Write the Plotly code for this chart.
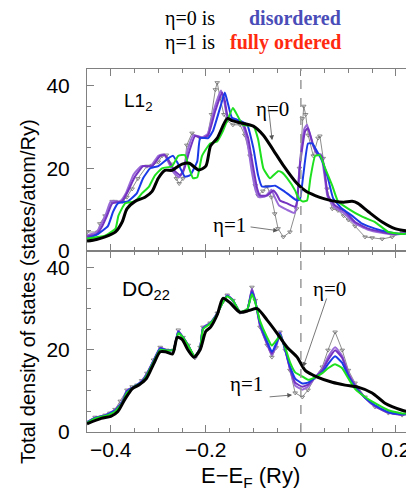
import plotly.graph_objects as go
from plotly.subplots import make_subplots

# ---------------- data: top panel (L1_2) ----------------
top_gray_x = [-0.45, -0.427, -0.423, -0.412, -0.397, -0.391, -0.376, -0.366, -0.355, -0.343, -0.324, -0.313, -0.3, -0.292, -0.283,
              -0.272, -0.262, -0.256, -0.248, -0.24, -0.229, -0.212, -0.197, -0.188, -0.18, -0.176, -0.17, -0.162, -0.155, -0.143,
              -0.128, -0.118, -0.107, -0.096, -0.09, -0.08, -0.071, -0.062, -0.055, -0.048, -0.037, -0.023, -0.009, -0.003, 0.003,
              0.006, 0.01, 0.0155, 0.026, 0.036, 0.04, 0.047, 0.055, 0.066, 0.078, 0.09, 0.1, 0.114, 0.135, 0.15, 0.171, 0.192,
              0.213, 0.238]
top_gray_y = [4.6, 4.6, 6.6, 8.5, 12, 12, 12, 13, 15, 17.5, 20.5, 20.7, 21.5, 23, 23.2,
              21, 17.5, 16.3, 17.5, 25.6, 28.5, 27.3, 27.6, 33, 39, 40.7, 37, 33, 31.5, 30.5,
              30.5, 28, 23, 15.8, 13.4, 14.5, 15.6, 13, 9, 5.4, 3.4, 4.6, 10.2, 20, 32,
              35, 33, 28, 23, 27.3, 27.8, 22.4, 15, 10.2, 9.8, 8.5, 7.5, 6, 3.4, 3.2, 2.9, 3.4,
              4.6, 4.6]

top_black_x = [-0.45, -0.43, -0.412, -0.39, -0.376, -0.366, -0.349, -0.328, -0.313, -0.3, -0.286, -0.271, -0.258, -0.25, -0.235,
               -0.215, -0.2, -0.19, -0.176, -0.155, -0.145, -0.128, -0.1, -0.079, -0.058, -0.037, -0.008, 0.01, 0.03, 0.05,
               0.072, 0.09, 0.108, 0.12, 0.142, 0.171, 0.198, 0.238]
top_black_y = [2.4, 2.8, 3.4, 4.6, 7, 10.2, 12, 13, 14.4, 17.6, 19.5, 19.5, 20.5, 21, 21.2,
               19.6, 20.5, 25.4, 27.3, 32, 31.5, 31, 30.2, 28, 24.4, 20.7, 16.3, 14.5, 13.4, 12.6,
               12, 11.8, 12, 11.5, 9.5, 7, 5.4, 4.6]

top_green_x = [-0.45, -0.412, -0.39, -0.384, -0.37, -0.349, -0.334, -0.32, -0.307, -0.292, -0.271, -0.258, -0.244, -0.235,
               -0.227, -0.218, -0.208, -0.191, -0.176, -0.164, -0.143, -0.137, -0.122, -0.1, -0.09, -0.079, -0.065, -0.048,
               -0.04, -0.029, -0.012, -0.005, 0.003, 0.013, 0.02, 0.03, 0.04, 0.051, 0.066, 0.078, 0.1, 0.129, 0.156, 0.184,
               0.213, 0.238]
top_green_y = [3, 3.7, 5.4, 8.5, 11.5, 12, 14, 15.5, 18.3, 20, 20.5, 23, 23.2, 20,
               17.6, 17.8, 23, 26, 26.5, 29, 34.6, 33.5, 30.5, 30.2, 27, 20, 17.6, 19.3,
               19, 17.6, 14.6, 12.7, 12, 12.2, 17.6, 23, 23.2, 20, 15.8, 12, 10.2, 8.3, 7, 4.6,
               4.1, 4.6]

top_blue_x = [-0.45, -0.427, -0.406, -0.395, -0.385, -0.364, -0.345, -0.332, -0.317, -0.3, -0.279, -0.269, -0.258, -0.244,
              -0.233, -0.218, -0.212, -0.195, -0.185, -0.17, -0.16, -0.153, -0.145, -0.128, -0.113, -0.1, -0.09, -0.082,
              -0.069, -0.054, -0.037, -0.023, -0.008, -0.002, 0.005, 0.015, 0.024, 0.03, 0.045, 0.057, 0.068, 0.087, 0.108,
              0.129, 0.156, 0.184, 0.213, 0.238]
top_blue_y = [3, 4.1, 6, 9.5, 11.5, 12, 14, 17.6, 20, 20.5, 22.4, 23, 21, 18,
              18.3, 21.7, 27.3, 27.3, 29, 34.6, 38.3, 35.4, 32.2, 31.5, 30.5, 24.9, 18.3, 15.6,
              15.6, 15.8, 14.6, 13.4, 12.2, 12.5, 18.3, 26, 26, 24.9, 21.7, 17.6, 12.7, 10.2, 8.5,
              6.6, 5.4, 4.6, 4.1, 4.6]

top_purple_x = [-0.45, -0.43, -0.418, -0.408, -0.397, -0.376, -0.364, -0.349, -0.332, -0.313, -0.296, -0.286, -0.265, -0.254,
                -0.245, -0.235, -0.223, -0.206, -0.195, -0.18, -0.166, -0.16, -0.153, -0.134, -0.122, -0.111, -0.1, -0.092,
                -0.086, -0.071, -0.058, -0.05, -0.044, -0.029, -0.012, -0.008, -0.002, 0.009, 0.015, 0.026, 0.036, 0.044,
                0.051, 0.057, 0.072, 0.093, 0.114, 0.142, 0.171, 0.198, 0.238]
top_purple_y = [3.5, 4, 6, 8.5, 11.5, 12, 14.4, 18, 20.5, 20.5, 23, 23.2, 19.3, 18.3,
                20, 24, 27.8, 27.3, 28, 33.9, 38.3, 36.3, 32.2, 31.7, 31, 27.3, 20, 15.1,
                13.4, 13.4, 14.6, 13.5, 12.2, 11.5, 10.7, 12, 20.7, 29, 29.7, 25.6, 23.2, 23,
                18.3, 13.4, 11, 9.5, 7, 5.4, 4.6, 4.1, 4.6]

top_violet_x = [-0.45, -0.43, -0.42, -0.41, -0.4, -0.38, -0.368, -0.352, -0.336, -0.316, -0.3, -0.288, -0.268, -0.256,
                -0.247, -0.238, -0.226, -0.208, -0.196, -0.182, -0.168, -0.161, -0.154, -0.136, -0.124, -0.113, -0.103,
                -0.095, -0.088, -0.075, -0.062, -0.055, -0.046, -0.03, -0.014, -0.009, -0.003, 0.007, 0.013, 0.024, 0.034,
                0.042, 0.05, 0.056, 0.07, 0.09, 0.112, 0.14, 0.17, 0.198, 0.238]
top_violet_y = [3.8, 4.5, 6.5, 9, 12, 12, 14, 18.5, 20.5, 20.5, 23, 23.4, 19, 17.8,
                19.5, 24.5, 28, 27.5, 28.3, 34.5, 38.8, 36, 32, 31.5, 30.8, 26.5, 19, 14.5,
                13, 13.2, 14.8, 13, 11, 10, 9.2, 11, 20, 29.5, 30.5, 26, 23.5, 23.4,
                18, 13.2, 10.6, 9.2, 6.8, 5.2, 4.4, 4, 4.6]

# ---------------- data: bottom panel (DO_22) ----------------
bot_gray_x = [-0.45, -0.433, -0.412, -0.402, -0.391, -0.38, -0.366, -0.355, -0.345, -0.335, -0.324, -0.31, -0.296, -0.282,
              -0.268, -0.258, -0.248, -0.237, -0.223, -0.212, -0.206, -0.191, -0.176, -0.165, -0.155, -0.143, -0.128, -0.113,
              -0.103, -0.096, -0.086, -0.071, -0.061, -0.052, -0.044, -0.033, -0.023, -0.012, 0.003, 0.015, 0.03, 0.045,
              0.057, 0.072, 0.087, 0.1, 0.114, 0.135, 0.156, 0.184, 0.213, 0.238]
bot_gray_y = [2.4, 3.6, 4.1, 4.6, 5.5, 7.5, 10.2, 11, 11.4, 12.5, 14.3, 17.5, 20.6, 19.9,
              19.9, 24.8, 23, 21.1, 18, 20.6, 25.5, 26.5, 28.9, 31.5, 33.3, 32, 29.1, 29.6,
              35.2, 32, 25.5, 21.1, 18.2, 20.5, 24.3, 19.9, 15, 9.5, 8.5, 10.2, 13.3, 15.8,
              19.9, 24.3, 19.9, 15, 11.9, 8.5, 6.1, 4.6, 4.1, 4.6]

bot_black_x = [-0.45, -0.42, -0.4, -0.385, -0.37, -0.355, -0.34, -0.325, -0.31, -0.296, -0.285, -0.27, -0.26, -0.25, -0.238,
               -0.225, -0.212, -0.2, -0.19, -0.176, -0.164, -0.15, -0.128, -0.11, -0.092, -0.071, -0.05, -0.029, -0.008,
               0.009, 0.036, 0.066, 0.093, 0.12, 0.15, 0.177, 0.213, 0.238]
bot_black_y = [2, 3.3, 3.8, 5, 8, 10.5, 11.5, 13, 16.5, 19.5, 19.5, 19, 23, 22.5, 20,
               18.2, 20, 24.5, 25.5, 28.5, 32.5, 31.5, 29.1, 29.5, 30, 27.2, 24, 20.6, 18.2,
               15, 13.3, 12.1, 11.4, 10.9, 9.5, 7, 5.3, 4.6]

bot_green_x = [-0.45, -0.433, -0.412, -0.391, -0.376, -0.366, -0.35, -0.335, -0.324, -0.31, -0.296, -0.282, -0.268, -0.258,
               -0.248, -0.237, -0.223, -0.212, -0.206, -0.191, -0.176, -0.165, -0.155, -0.143, -0.128, -0.113, -0.103,
               -0.096, -0.086, -0.071, -0.061, -0.05, -0.044, -0.033, -0.023, -0.012, 0.003, 0.015, 0.03, 0.045, 0.057,
               0.072, 0.087, 0.1, 0.114, 0.135, 0.156, 0.184, 0.213, 0.238]
bot_green_y = [2.2, 3.3, 3.9, 5, 7, 9.5, 11, 12, 13.8, 17, 20, 19.8, 20, 24, 23, 21, 18.3, 20.3, 25, 26.3, 28.7, 31.3, 33,
               32, 29.2, 29.8, 33.5, 31.5, 27, 23, 21, 22.5, 23.5, 20.5, 17, 14.5, 13.5, 12.7, 13.3, 14.3, 15.5,
               16.5, 15.5, 13, 10.5, 8.5, 7, 5.3, 4.5, 4.6]

bot_blue_x = [-0.45, -0.433, -0.412, -0.391, -0.376, -0.366, -0.35, -0.335, -0.324, -0.31, -0.296, -0.282, -0.268, -0.258,
              -0.248, -0.237, -0.223, -0.212, -0.206, -0.191, -0.176, -0.165, -0.155, -0.143, -0.128, -0.113, -0.103,
              -0.096, -0.086, -0.071, -0.061, -0.05, -0.044, -0.033, -0.023, -0.012, 0.003, 0.015, 0.03, 0.045, 0.057,
              0.072, 0.087, 0.1, 0.114, 0.135, 0.156, 0.184, 0.213, 0.238]
bot_blue_y = [2.3, 3.4, 4, 5.2, 7.2, 9.8, 11.1, 12.2, 14, 17.2, 20.3, 19.8, 20, 24.3, 23, 21, 18.2, 20.4, 25.2, 26.4, 28.8,
              31.4, 33.1, 32, 29.1, 29.7, 34, 31.8, 26.5, 22, 19.5, 22, 24, 20, 16, 13, 11.8, 12, 13.3, 14.5, 16.5,
              18.4, 16.8, 13.5, 11, 8.3, 6.5, 4.8, 4.3, 4.6]

bot_purple_x = [-0.45, -0.433, -0.412, -0.391, -0.376, -0.366, -0.35, -0.335, -0.324, -0.31, -0.296, -0.282, -0.268, -0.258,
                -0.248, -0.237, -0.223, -0.212, -0.206, -0.191, -0.176, -0.165, -0.155, -0.143, -0.128, -0.113, -0.103,
                -0.096, -0.086, -0.071, -0.061, -0.05, -0.044, -0.033, -0.023, -0.012, 0.003, 0.015, 0.03, 0.045, 0.057,
                0.072, 0.087, 0.1, 0.114, 0.135, 0.156, 0.184, 0.213, 0.238]
bot_purple_y = [2.3, 3.5, 4, 5.3, 7.3, 10, 11, 12.3, 14.1, 17.3, 20.4, 19.9, 20, 24.5, 23, 21, 18.1, 20.5, 25.3, 26.4, 28.8,
                31.4, 33.2, 32, 29.1, 29.6, 34.5, 31.9, 26, 21.5, 19, 22, 24.2, 20, 15.5, 12, 11, 11.5, 13.3, 15, 17.5,
                19.9, 18, 14, 11.3, 8.3, 6.3, 4.7, 4.2, 4.6]

bot_violet_x = [-0.45, -0.433, -0.412, -0.391, -0.376, -0.366, -0.35, -0.335, -0.324, -0.31, -0.296, -0.282, -0.268, -0.258,
                -0.248, -0.237, -0.223, -0.212, -0.206, -0.191, -0.176, -0.165, -0.155, -0.143, -0.128, -0.113, -0.103,
                -0.096, -0.086, -0.071, -0.061, -0.05, -0.044, -0.033, -0.023, -0.012, 0.003, 0.015, 0.03, 0.045, 0.057,
                0.072, 0.087, 0.1, 0.114, 0.135, 0.156, 0.184, 0.213, 0.238]
bot_violet_y = [2.4, 3.5, 4.1, 5.4, 7.4, 10.1, 11, 12.4, 14.2, 17.4, 20.5, 19.9, 20, 24.6, 23, 21.1, 18.1, 20.5, 25.4, 26.5,
                28.9, 31.5, 33.3, 32, 29.1, 29.6, 34.8, 31.9, 25.8, 21.3, 18.7, 21.5, 24.3, 20, 15.3, 11.3, 10.3, 11,
                13.3, 15.3, 18.2, 20.6, 18.5, 14.3, 11.5, 8.3, 6.2, 4.7, 4.2, 4.6]

x_tick_vals = [-0.4, -0.2, 0, 0.2]
x_tick_text = ["\u22120.4", "\u22120.2", "0", "0.2"]
y_tick_vals = [0, 20, 40]

# ---------------- figure ----------------
# page body has an 8px margin; figure coordinates = screen coordinates - 8
OFF = 8
W, H = 414 - OFF, 494 - OFF
ML, MR, MT, MB = 87 - OFF, 0, 69 - OFF, 62
PW, PH = W - ML - MR, H - MT - MB


def px(xs):
    return (xs - OFF - ML) / PW


def py(ys):
    return (H - MB - (ys - OFF)) / PH


fig = make_subplots(rows=2, cols=1, shared_xaxes=True, vertical_spacing=0)

C_BLACK = "#000000"
C_GREEN = "#1ee01e"
C_BLUE = "#1a3ae8"
C_PURPLE = "#7433c0"
C_VIOLET = "#9a6ad8"
C_GRAY = "#6e6e6e"

panels = [
    (1, top_gray_x, top_gray_y, top_violet_x, top_violet_y, top_purple_x, top_purple_y,
     top_blue_x, top_blue_y, top_green_x, top_green_y, top_black_x, top_black_y),
    (2, bot_gray_x, bot_gray_y, bot_violet_x, bot_violet_y, bot_purple_x, bot_purple_y,
     bot_blue_x, bot_blue_y, bot_green_x, bot_green_y, bot_black_x, bot_black_y),
]
for (r, gx, gy, vx, vy, ux, uy, bx, by, grx, gry, kx, ky) in panels:
    fig.add_trace(go.Scatter(x=gx, y=gy, mode="lines+markers",
                             line=dict(color=C_GRAY, width=0.8),
                             marker=dict(symbol="triangle-down-open", size=4, color=C_GRAY, line=dict(width=0.8))),
                  row=r, col=1)
    fig.add_trace(go.Scatter(x=vx, y=vy, mode="lines", line=dict(color=C_VIOLET, width=2, shape="spline", smoothing=0.4)),
                  row=r, col=1)
    fig.add_trace(go.Scatter(x=ux, y=uy, mode="lines", line=dict(color=C_PURPLE, width=2, shape="spline", smoothing=0.4)),
                  row=r, col=1)
    fig.add_trace(go.Scatter(x=bx, y=by, mode="lines", line=dict(color=C_BLUE, width=2, shape="spline", smoothing=0.4)),
                  row=r, col=1)
    fig.add_trace(go.Scatter(x=grx, y=gry, mode="lines", line=dict(color=C_GREEN, width=2, shape="spline", smoothing=0.4)),
                  row=r, col=1)
    fig.add_trace(go.Scatter(x=kx, y=ky, mode="lines", line=dict(color=C_BLACK, width=3, shape="spline", smoothing=0.7)),
                  row=r, col=1)

tick_font = dict(family="Liberation Sans, Arial, sans-serif", size=21, color="black")
axis_common = dict(showline=True, linecolor="#808080", linewidth=1, mirror="ticks", ticks="inside",
                   ticklen=7, tickcolor="#808080", showgrid=False, zeroline=False, tickfont=tick_font)

fig.update_xaxes(range=[-0.45, 0.238], tickvals=x_tick_vals, ticktext=x_tick_text, ticklabelstandoff=-1,
                 minor=dict(dtick=0.05, tick0=0, ticks="inside", ticklen=4, tickcolor="#808080"),
                 **axis_common)
fig.update_xaxes(showticklabels=False, row=1, col=1)
fig.update_yaxes(range=[0, 44], tickvals=y_tick_vals, ticklabelstandoff=12,
                 minor=dict(dtick=5, tick0=0, ticks="inside", ticklen=4, tickcolor="#808080"),
                 **axis_common)
fig.update_layout(
    xaxis=dict(domain=[0, 1]), xaxis2=dict(domain=[0, 1]),
    yaxis=dict(domain=[py(251), 1]), yaxis2=dict(domain=[0, py(251)]),
)

# dashed Fermi-level lines
for xr, yr in [("x", "y domain"), ("x2", "y2 domain")]:
    fig.add_shape(type="line", xref=xr, yref=yr, x0=0, x1=0, y0=0, y1=1,
                  line=dict(color="#9a9a9a", width=1.5, dash="dash"))

serif = "Liberation Serif, Times New Roman, serif"
sans = "Liberation Sans, Arial, sans-serif"
ann = []
# header lines
ann.append(dict(text="\u03b7=0 is", x=px(163), y=py(18), xref="paper", yref="paper", xanchor="left", yanchor="middle",
                showarrow=False, font=dict(family=serif, size=20, color="black")))
ann.append(dict(text="<b>disordered</b>", x=px(343), y=py(18), xref="paper", yref="paper", xanchor="right",
                yanchor="middle", showarrow=False, font=dict(family=serif, size=20, color="#4a4db8")))
ann.append(dict(text="\u03b7=1 is", x=px(163), y=py(43), xref="paper", yref="paper", xanchor="left", yanchor="middle",
                showarrow=False, font=dict(family=serif, size=20, color="black")))
ann.append(dict(text="<b>fully ordered</b>", x=px(343), y=py(43), xref="paper", yref="paper", xanchor="right",
                yanchor="middle", showarrow=False, font=dict(family=serif, size=20, color="#ff2a10")))
# panel labels
ann.append(dict(text="L1<sub>2</sub>", x=px(122), y=py(102), xref="paper", yref="paper", xanchor="left",
                yanchor="middle", showarrow=False, font=dict(family=sans, size=19, color="black")))
ann.append(dict(text="DO<sub>22</sub>", x=px(120), y=py(290), xref="paper", yref="paper", xanchor="left",
                yanchor="middle", showarrow=False, font=dict(family=sans, size=21, color="black")))
# axis titles
ann.append(dict(text="Total density of states (states/atom/Ry)", x=px(28), y=py(292), xref="paper", yref="paper",
                xanchor="center", yanchor="middle", textangle=-90, showarrow=False,
                font=dict(family=sans, size=20, color="black")))
ann.append(dict(text="E\u2212E<sub>F</sub> (Ry)", x=px(250), y=py(477), xref="paper", yref="paper",
                xanchor="center", yanchor="middle", showarrow=False, font=dict(family=sans, size=22, color="black")))
# eta labels
eta_font = dict(family=serif, size=21, color="black")
ann.append(dict(text="\u03b7=0", x=px(272), y=py(95), xref="paper", yref="paper", showarrow=False, font=eta_font))
ann.append(dict(text="\u03b7=1", x=px(229), y=py(225), xref="paper", yref="paper", showarrow=False, font=eta_font))
ann.append(dict(text="\u03b7=0", x=px(348), y=py(289), xref="paper", yref="paper", showarrow=False, font=eta_font))
ann.append(dict(text="\u03b7=1", x=px(246), y=py(398), xref="paper", yref="paper", showarrow=False, font=eta_font))
# arrows (tip in data coords, tail offset in px)
arrow_style = dict(text="", showarrow=True, arrowhead=2, arrowsize=1.2, arrowwidth=0.8, arrowcolor="#555555",
                   standoff=0, startstandoff=0)
ann.append(dict(x=-0.0605, y=26.8, xref="x", yref="y", ax=-4, ay=-36, **arrow_style))
ann.append(dict(x=-0.048, y=4.9, xref="x", yref="y", ax=-29, ay=-4, **arrow_style))
ann.append(dict(x=0.0047, y=15.8, xref="x2", yref="y2", ax=24, ay=-70, **arrow_style))
ann.append(dict(x=-0.0184, y=9.0, xref="x2", yref="y2", ax=-24, ay=2, **arrow_style))

fig.update_layout(
    width=W, height=H, margin=dict(l=ML, r=MR, t=MT, b=MB),
    paper_bgcolor="white", plot_bgcolor="white", showlegend=False,
    annotations=ann,
)

fig.write_html("out.html")
